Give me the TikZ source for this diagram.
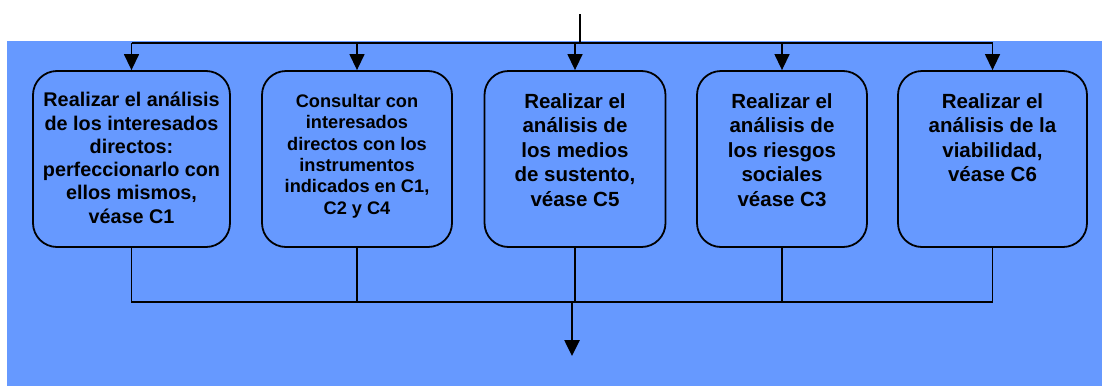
\documentclass[tikz,border=0pt]{standalone}
\usepackage{fontspec}
\setmainfont{Liberation Sans}
\usetikzlibrary{arrows.meta}
\definecolor{bgblue}{HTML}{6699FF}
\tikzset{
  stepbox/.style={draw, line width=1.8pt, rounded corners=24pt, minimum height=176pt, inner sep=0pt},
  txt/.style={anchor=north, align=center, inner sep=0pt},
  link/.style={line width=1.4pt},
  thick link/.style={line width=2.6pt},
  tip/.style={-{Triangle[width=15pt,length=16pt]}}
}
\begin{document}
\begin{tikzpicture}[x=1pt,y=-1pt]
  \useasboundingbox (0,0) rectangle (1102,386);
  \fill[bgblue] (7,41) rectangle (1102,386);
  \coordinate (in) at (580,14);
  \coordinate (top) at (0,43);
  \coordinate (bot) at (0,302);
  \coordinate (out) at (572,356);
  \node[stepbox, minimum width=197pt] (s0) at (131.5,159) {};
  \node[stepbox, minimum width=190pt] (s1) at (357,159) {};
  \node[stepbox, minimum width=181pt] (s2) at (575,159) {};
  \node[stepbox, minimum width=170pt] (s3) at (782,159) {};
  \node[stepbox, minimum width=189pt] (s4) at (992.5,159) {};
  \node[txt, font=\fontsize{19.8}{23.3}\selectfont\bfseries] (t0) at (131.5,92)
    {Realizar el análisis\\de los interesados\\directos:\\perfeccionarlo con\\ellos mismos,\\véase C1};
  \node[txt, font=\fontsize{18.2}{21.4}\selectfont\bfseries] (t1) at (357,94)
    {Consultar con\\interesados\\directos con los\\instrumentos\\indicados en C1,\\C2 y C4};
  \node[txt, font=\fontsize{20.5}{24.5}\selectfont\bfseries] (t2) at (575,93)
    {Realizar el\\análisis de\\los medios\\de sustento,\\véase C5};
  \node[txt, font=\fontsize{20.5}{24.5}\selectfont\bfseries] (t3) at (782,93)
    {Realizar el\\análisis de\\los riesgos\\sociales\\véase C3};
  \node[txt, font=\fontsize{20.5}{24.5}\selectfont\bfseries] (t4) at (992.5,93)
    {Realizar el\\análisis de la\\viabilidad,\\véase C6};
  \draw[thick link] (in) -- (in |- top);
  \draw[link] (s0.north |- top) -- (s4.north |- top);
  \draw[link] (s0.south) -- (s0.south |- bot) -- (s4.south |- bot) -- (s4.south);
  \foreach \s in {s0,s1,s2,s3,s4} {
    \draw[link, tip] (\s.north |- top) -- (\s.north);
  }
  \foreach \s in {s1,s2,s3} {
    \draw[link] (\s.south) -- (\s.south |- bot);
  }
  \draw[thick link, tip] (out |- bot) -- (out);
\end{tikzpicture}
\end{document}
